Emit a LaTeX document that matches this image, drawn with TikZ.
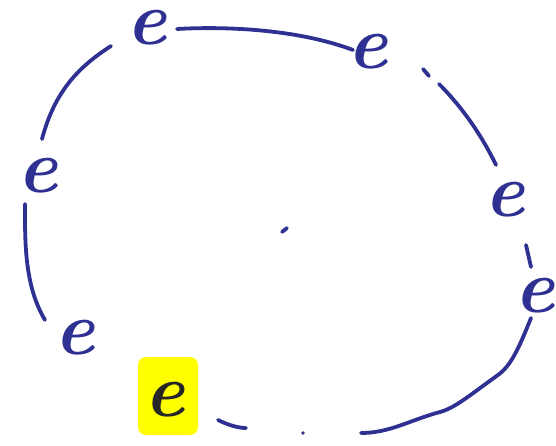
\documentclass[tikz,border=0pt]{standalone}
\usetikzlibrary{calc}
\definecolor{ink}{RGB}{46,49,146}
\definecolor{hl}{RGB}{255,255,0}
\tikzset{
  letter/.style={inner sep=0pt, text=ink, font=\fontsize{76}{76}\selectfont\bfseries\itshape},
  stroke/.style={draw=ink, line width=3.8pt, line cap=round, line join=round},
}
\begin{document}
\begin{tikzpicture}[x=1pt,y=-1pt]
\useasboundingbox (0,0) rectangle (556,446);
% highlight
\fill[hl, rounded corners=8pt] (138,357) rectangle (198,435);
% letters
\node[letter] (e1) at (147,28) {e};
\node[letter] (e2) at (368,52) {e};
\node[letter] (e3) at (38,176) {e};
\node[letter] (e4) at (505,200) {e};
\node[letter] (e5) at (535,296) {e};
\node[letter] (e6) at (75,338) {e};
\node[letter, text=black!85] (e7) at (165,400) {e};
% strokes
\coordinate (a1) at (177,29);
\coordinate (a2) at (353,50);
\draw[stroke] (a1) .. controls (230,26) and (300,30) .. (a2);
\coordinate (b1) at (111,46);
\coordinate (b2) at (42,139);
\draw[stroke] (b1) .. controls (80,66) and (55,90) .. (b2);
\coordinate (c1) at (25,204);
\coordinate (c2) at (45,320);
\draw[stroke] (c1) .. controls (25,240) and (24,285) .. (c2);
\coordinate (d1) at (423,69);
\coordinate (d2) at (429,76);
\draw[stroke] (d1) -- (d2);
\coordinate (f1) at (439,84);
\coordinate (f2) at (496,165);
\draw[stroke] (f1) .. controls (460,105) and (480,132) .. (f2);
\coordinate (g1) at (526,245);
\coordinate (g2) at (531,267);
\draw[stroke] (g1) -- (g2);
\coordinate (h1) at (531,318);
\coordinate (h2) at (361,433);
\draw[stroke] (h1) .. controls (520,345) and (512,365) .. (498,375)
  .. controls (470,395) and (455,408) .. (440,412)
  .. controls (410,420) and (390,433) .. (h2);
\coordinate (k1) at (218,420);
\coordinate (k2) at (246,428);
\draw[stroke] (k1) .. controls (228,425) and (238,428) .. (k2);
\coordinate (dot1) at (303,433);
\fill[ink] (dot1) circle (1.8pt);
\coordinate (m1) at (282,232);
\coordinate (m2) at (287,228);
\draw[stroke] (m1) -- (m2);
\end{tikzpicture}
\end{document}
